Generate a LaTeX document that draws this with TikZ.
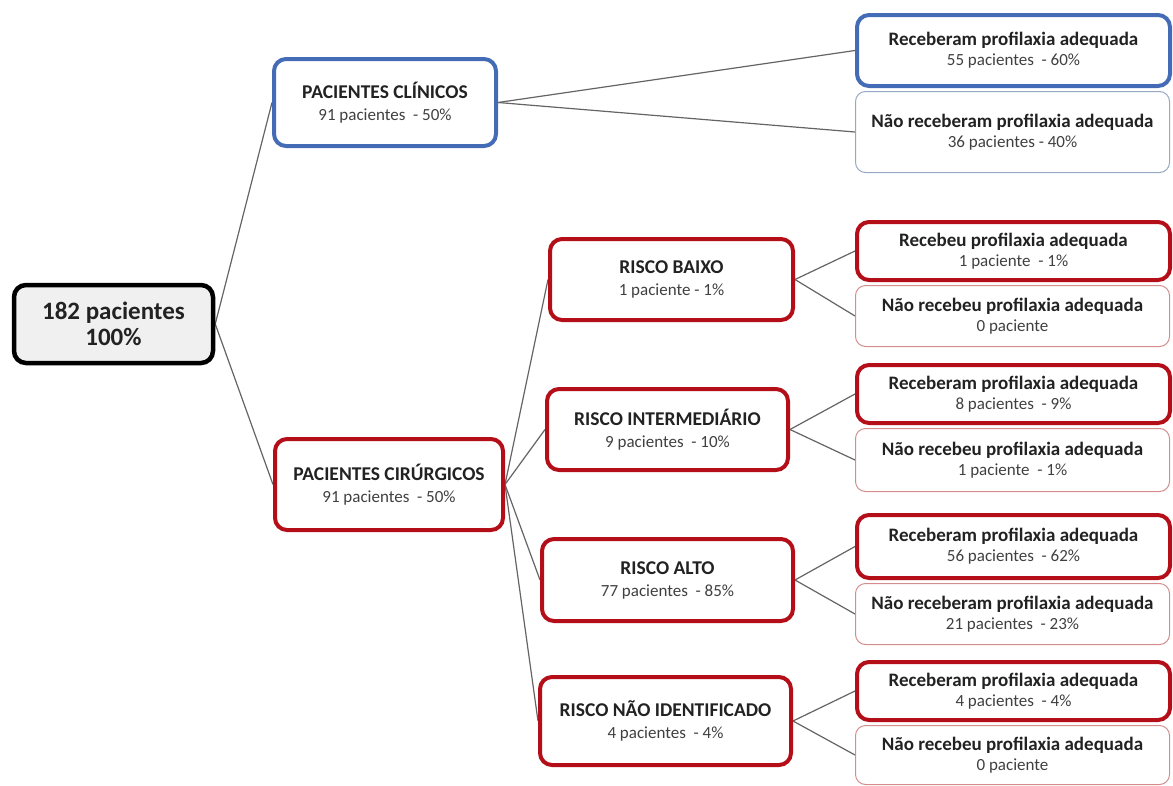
\documentclass[tikz,border=0pt]{standalone}
\usepackage{fontspec}
\setmainfont{Carlito}
\usetikzlibrary{backgrounds}
\definecolor{blueC}{RGB}{68,108,182}
\definecolor{blueThin}{RGB}{150,168,196}
\definecolor{redC}{RGB}{180,14,24}
\definecolor{redThin}{RGB}{212,140,140}
\definecolor{rootFill}{RGB}{240,240,240}
\definecolor{txt}{RGB}{34,34,34}
\definecolor{txtb}{RGB}{64,64,64}
\definecolor{conn}{RGB}{100,100,100}
\tikzset{
  box/.style={rectangle, rounded corners=12pt, fill=white, inner sep=0pt, align=center, text=txt},
  rootbox/.style={box, draw=black, line width=4.5pt, fill=rootFill, minimum width=199pt, minimum height=78pt,
    font=\fontsize{25}{26}\selectfont\bfseries},
  bluebox/.style={box, draw=blueC, line width=4pt},
  redbox/.style={box, draw=redC, line width=4pt},
  bluethin/.style={box, draw=blueThin, line width=1pt, rounded corners=10pt},
  redthin/.style={box, draw=redThin, line width=1pt, rounded corners=10pt},
  mid/.style={font=\fontsize{19.5}{22}\selectfont},
  leaf/.style={font=\fontsize{19}{20}\selectfont},
  wide/.style={minimum width=313pt},
  widethin/.style={minimum width=314pt},
  link/.style={draw=conn, line width=1.2pt},
}
\newcommand{\sub}[1]{{\fontsize{17}{20}\selectfont\mdseries\color{txtb}#1}}
\begin{document}
\begin{tikzpicture}[x=1pt,y=-1pt]
\useasboundingbox (0,0) rectangle (1173,785);
% root
\node[rootbox] (root) at (113.5,324) {182 pacientes\\100\%};
% level 1
\node[bluebox, mid, minimum width=222pt, minimum height=87pt] (clin) at (385,102.5)
  {\textbf{PACIENTES CLÍNICOS}\\\sub{91 pacientes~ - 50\%}};
\node[redbox, mid, minimum width=228pt, minimum height=91pt] (cir) at (389,484.5)
  {\textbf{PACIENTES CIRÚRGICOS}\\\sub{91 pacientes~ - 50\%}};
% clinical leaves
\node[bluebox, leaf, wide, minimum height=71pt] (c1) at (1013.5,50.5)
  {\textbf{Receberam profilaxia adequada}\\\sub{55 pacientes~ - 60\%}};
\node[bluethin, leaf, widethin, minimum height=81pt] (c2) at (1012.5,132)
  {\textbf{Não receberam profilaxia adequada}\\\sub{36 pacientes - 40\%}};
% risk nodes
\node[redbox, mid, minimum width=243pt, minimum height=81pt] (rb) at (671.5,279.5)
  {\textbf{RISCO BAIXO}\\\sub{1 paciente - 1\%}};
\node[redbox, mid, minimum width=241pt, minimum height=81pt] (ri) at (667.5,429.5)
  {\textbf{RISCO INTERMEDIÁRIO}\\\sub{9 pacientes~ - 10\%}};
\node[redbox, mid, minimum width=251pt, minimum height=82pt] (ra) at (667.5,580)
  {\textbf{RISCO ALTO}\\\sub{77 pacientes~ - 85\%}};
\node[redbox, mid, minimum width=251pt, minimum height=88pt] (rn) at (665.5,721)
  {\textbf{RISCO NÃO IDENTIFICADO}\\\sub{4 pacientes~ - 4\%}};
% risk leaves
\node[redbox, leaf, wide, minimum height=58pt] (b1) at (1013.5,251)
  {\textbf{Recebeu profilaxia adequada}\\\sub{1 paciente~ - 1\%}};
\node[redthin, leaf, widethin, minimum height=61pt] (b2) at (1012.5,316)
  {\textbf{Não recebeu profilaxia adequada}\\\sub{0 paciente}};
\node[redbox, leaf, wide, minimum height=58pt] (i1) at (1013.5,394)
  {\textbf{Receberam profilaxia adequada}\\\sub{8 pacientes~ - 9\%}};
\node[redthin, leaf, widethin, minimum height=63pt] (i2) at (1012.5,460)
  {\textbf{Não recebeu profilaxia adequada}\\\sub{1 paciente~ - 1\%}};
\node[redbox, leaf, wide, minimum height=63pt] (a1) at (1013.5,546.5)
  {\textbf{Receberam profilaxia adequada}\\\sub{56 pacientes~ - 62\%}};
\node[redthin, leaf, widethin, minimum height=61pt] (a2) at (1012.5,614)
  {\textbf{Não receberam profilaxia adequada}\\\sub{21 pacientes~ - 23\%}};
\node[redbox, leaf, wide, minimum height=58pt] (n1) at (1013.5,691)
  {\textbf{Receberam profilaxia adequada}\\\sub{4 pacientes~ - 4\%}};
\node[redthin, leaf, widethin, minimum height=59pt] (n2) at (1012.5,755)
  {\textbf{Não recebeu profilaxia adequada}\\\sub{0 paciente}};
% connectors
\begin{pgfonlayer}{background}
\draw[link] (root.east) -- (clin.west);
\draw[link] (root.east) -- (cir.west);
\draw[link] (clin.east) -- (c1.west);
\draw[link] (clin.east) -- (c2.west);
\draw[link] (cir.east) -- (rb.west);
\draw[link] (cir.east) -- (ri.west);
\draw[link] (cir.east) -- (ra.west);
\draw[link] (cir.east) -- (rn.west);
\draw[link] (rb.east) -- (b1.west);
\draw[link] (rb.east) -- (b2.west);
\draw[link] (ri.east) -- (i1.west);
\draw[link] (ri.east) -- (i2.west);
\draw[link] (ra.east) -- (a1.west);
\draw[link] (ra.east) -- (a2.west);
\draw[link] (rn.east) -- (n1.west);
\draw[link] (rn.east) -- (n2.west);
\end{pgfonlayer}
\end{tikzpicture}
\end{document}
